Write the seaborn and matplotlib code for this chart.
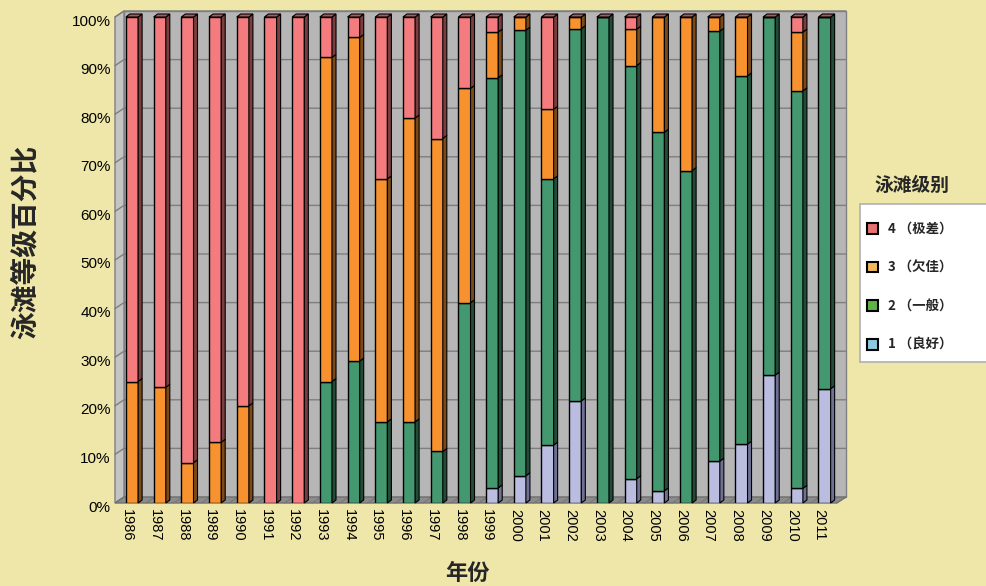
import numpy as np
import matplotlib
matplotlib.use("Agg")
import matplotlib.pyplot as plt
import matplotlib.transforms as mtransforms
from matplotlib.patches import Polygon, Patch, Rectangle
import seaborn as sns

# ---------------- data (percent of beaches per grade) ----------------
years = [str(y) for y in range(1986, 2012)]
grade1_good = [0, 0, 0, 0, 0, 0, 0, 0, 0, 0, 0, 0, 0,
               3.1, 5.6, 11.9, 21.0, 0, 5.0, 2.5, 0, 8.6, 12.1, 26.3, 3.0, 23.5]
grade2_fair = [0, 0, 0, 0, 0, 0, 0, 25.0, 29.2, 16.7, 16.7, 10.6, 41.2,
               84.4, 91.7, 54.8, 76.6, 100, 85.0, 73.8, 68.4, 88.5, 75.8, 73.7, 81.8, 76.5]
grade3_poor = [25.0, 23.8, 8.3, 12.5, 20.0, 0, 0, 66.7, 66.6, 50.0, 62.5, 64.4, 44.1,
               9.4, 2.7, 14.3, 2.4, 0, 7.5, 23.7, 31.6, 2.9, 12.1, 0, 12.1, 0]
grade4_bad = [75.0, 76.2, 91.7, 87.5, 80.0, 100, 100, 8.3, 4.2, 33.3, 20.8, 25.0, 14.7,
              3.1, 0, 19.0, 0, 0, 2.5, 0, 0, 0, 0, 0, 3.1, 0]
legend_labels = ["4 （极差）", "3 （欠佳）", "2 （一般）", "1 （良好）"]
ytick_values = [0, 10, 20, 30, 40, 50, 60, 70, 80, 90, 100]

# ---------------- style ----------------
BG = "#efe7a9"
front_cols = ["#babde0", "#449870", "#f7922f", "#f47c7f"]   # grade 1..4
side_cols = ["#6e7194", "#224c38", "#7c4a18", "#7a3e40"]
top_col = "#b0585e"
legend_cols = ["#e87272", "#f0b85c", "#5eb444", "#8ccae0"]   # grade 4..1

sns.set_theme(style="white")
plt.rcParams["font.family"] = ["Liberation Sans", "Noto Sans CJK SC", "DejaVu Sans"]
CJK = ["Noto Sans CJK SC", "DejaVu Sans"]

W, H = 986, 586
fig = plt.figure(figsize=(W / 100, H / 100), dpi=100, facecolor=BG)
L, R, B, T = 115, 837, 503, 17
ax = fig.add_axes([L / W, 1 - B / H, (R - L) / W, (B - T) / H])
ax.patch.set_visible(False)

series = [grade1_good, grade2_fair, grade3_poor, grade4_bad]
bottom = np.zeros(len(years))
groups = []
for vals, col in zip(series, front_cols):
    n0 = len(ax.patches)
    sns.barplot(x=years, y=vals, bottom=bottom.copy(), color=col, width=0.44,
                saturation=1, edgecolor="black", linewidth=1.0, ax=ax, zorder=3)
    groups.append(list(ax.patches[n0:]))
    bottom = bottom + np.array(vals)

x0lim, x1lim = -0.614, 25.45
ax.set_xlim(x0lim, x1lim)
ax.set_ylim(0, 100)
sx = (R - L) / (x1lim - x0lim)
sy = (B - T) / 100.0

# walls
wdx, wdy = 9 / sx, 6 / sy
ax.add_patch(Rectangle((x0lim + wdx, wdy), x1lim - x0lim, 100, facecolor="#b6b6b7",
                       edgecolor="#808080", lw=1, clip_on=False, zorder=0))
ax.add_patch(Polygon([(x0lim, 0), (x0lim + wdx, wdy), (x0lim + wdx, 100 + wdy), (x0lim, 100)],
                     closed=True, facecolor="#c4c4c4", edgecolor="#808080", lw=1,
                     clip_on=False, zorder=0.5))
ax.add_patch(Polygon([(x0lim, 0), (x1lim, 0), (x1lim + wdx, wdy), (x0lim + wdx, wdy)],
                     closed=True, facecolor="#8c8c8c", edgecolor="#707070", lw=1,
                     clip_on=False, zorder=0.5))
for v in ytick_values[1:]:
    ax.plot([x0lim, x0lim + wdx, x1lim + wdx], [v, v + wdy, v + wdy], color="#7e7e7e",
            lw=1, clip_on=False, zorder=1)
for i in range(len(years) - 1):
    ax.plot([i + 0.5, i + 0.5 + wdx], [0, wdy], color="#777777", lw=0.8,
            clip_on=False, zorder=1)

# 3D faces of bars
bdx, bdy = 4 / sx, 3 / sy
top_seg = {}
for gi, grp in enumerate(groups):
    for bi, p in enumerate(grp):
        x0, y0 = p.get_x(), p.get_y()
        w, h = p.get_width(), p.get_height()
        if h <= 0:
            continue
        x1 = x0 + w
        ax.add_patch(Polygon([(x1, y0), (x1 + bdx, y0 + bdy), (x1 + bdx, y0 + h + bdy), (x1, y0 + h)],
                             closed=True, facecolor=side_cols[gi], edgecolor="black",
                             lw=0.8, clip_on=False, zorder=3))
        top_seg[bi] = p
for bi, p in top_seg.items():
    x0, w = p.get_x(), p.get_width()
    yt = p.get_y() + p.get_height()
    ax.add_patch(Polygon([(x0, yt), (x0 + bdx, yt + bdy), (x0 + w + bdx, yt + bdy), (x0 + w, yt)],
                         closed=True, facecolor=top_col, edgecolor="black", lw=0.8,
                         clip_on=False, zorder=3))

for s in ax.spines.values():
    s.set_visible(False)
ax.set_xlabel("")
ax.set_ylabel("")
ax.set_yticks(ytick_values)
ax.set_yticklabels([f"{v}%" for v in ytick_values])
ax.tick_params(axis="y", length=0, pad=3, labelsize=11, labelcolor="black")
ax.tick_params(axis="x", length=0, pad=4, labelsize=10.5, labelcolor="black")
for lab in ax.get_xticklabels():
    lab.set_rotation(270)
    lab.set_ha("center")
    lab.set_va("top")
    lab.set_transform(lab.get_transform() + mtransforms.ScaledTranslation(-5 / 100, 0, fig.dpi_scale_trans))
for lab in ax.get_yticklabels():
    lab.set_transform(lab.get_transform() + mtransforms.ScaledTranslation(0, -3 / 100, fig.dpi_scale_trans))
ax.grid(False)

# axis titles
fig.text(26 / W, 1 - 242 / H, "泳滩等级百分比", rotation=90, fontsize=20, fontweight="bold",
         family=CJK, ha="center", va="center")
fig.text(467 / W, 1 - 573 / H, "年份", fontsize=16, fontweight="bold", family=CJK,
         ha="center", va="center")

# legend
fig.text(912 / W, 1 - 185 / H, "泳滩级别", fontsize=13.5, fontweight="bold", family=CJK,
         ha="center", va="center")
fig.patches.append(Rectangle((860 / W, 1 - 362 / H), 140 / W, 158 / H, transform=fig.transFigure,
                             facecolor="white", edgecolor="#b0b0b0", lw=1.2, zorder=1))
handles = [Patch(facecolor=c, edgecolor="black", linewidth=1.5) for c in legend_cols]
leg = fig.legend(handles, legend_labels, loc="upper left",
                 bbox_to_anchor=(867 / W, 1 - 222 / H),
                 frameon=False, prop=dict(family=CJK, weight="bold", size=9.6),
                 handlelength=0.85, handleheight=0.85, handletextpad=0.75,
                 labelspacing=1.85, borderpad=0, borderaxespad=0)

fig.savefig("out.png", dpi=100, facecolor=BG)
